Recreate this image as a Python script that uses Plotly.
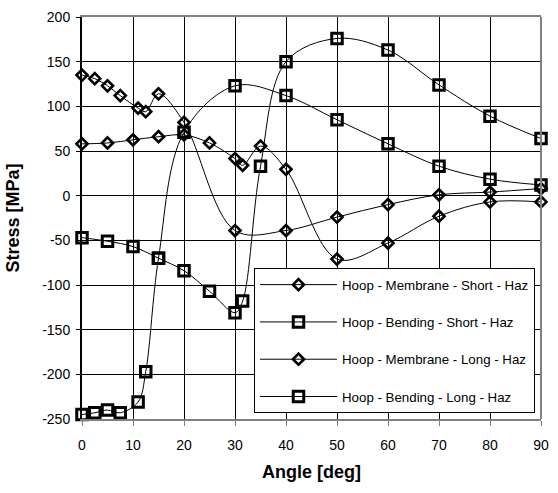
import plotly.graph_objects as go

# Angles (deg) for the two groups of measurements
angles_short = [0, 5, 10, 15, 20, 25, 30, 31.5, 35, 40, 50, 60, 70, 80, 90]
angles_long = [0, 2.5, 5, 7.5, 11, 12.5, 15, 20, 30, 40, 50, 60, 70, 80, 90]

# Stress values (MPa)
hoop_membrane_short = [58, 59, 62.5, 66, 68, 59, 41.5, 34, 55.5, 29.5, -71, -53, -23, -7, -7]
hoop_bending_short = [-47, -51, -57, -70, -84, -107, -131, -118, 33, 150, 176, 163, 124, 89, 64]
hoop_membrane_long = [135, 131, 123, 112, 98, 94, 114, 82, -39, -39, -24, -10, 1, 4, 8]
hoop_bending_long = [-245, -243, -240, -243, -231, -197, -70, 71, 123, 112, 85, 58, 33, 18.5, 12]

series_names = [
    "Hoop - Membrane - Short - Haz",
    "Hoop - Bending - Short - Haz",
    "Hoop - Membrane - Long - Haz",
    "Hoop - Bending - Long - Haz",
]

x_ticks = [0, 10, 20, 30, 40, 50, 60, 70, 80, 90]
y_ticks = [-250, -200, -150, -100, -50, 0, 50, 100, 150, 200]

FONT = "Liberation Sans, Arial, sans-serif"

fig = go.Figure()

specs = [
    (angles_short, hoop_membrane_short, series_names[0], "diamond-open", 8.5, 2.6),
    (angles_short, hoop_bending_short, series_names[1], "square-open", 10.5, 3),
    (angles_long, hoop_membrane_long, series_names[2], "diamond-open", 8.5, 2.6),
    (angles_long, hoop_bending_long, series_names[3], "square-open", 10.5, 3),
]

for i, (xs, ys, name, sym, size, lw) in enumerate(specs):
    fig.add_trace(go.Scatter(
        x=xs, y=ys, name=name, mode="lines+markers",
        line=dict(color="black", width=1, shape="spline", smoothing=1.0),
        marker=dict(symbol=sym, size=size, color="black", line=dict(color="black", width=lw)),
        cliponaxis=False,
        legendgroup=f"g{i}",
    ))

fig.update_layout(
    width=558, height=493,
    margin=dict(l=82, r=9, t=13, b=74),
    paper_bgcolor="white", plot_bgcolor="white",
    font=dict(family=FONT, size=14, color="black"),
    showlegend=True,
    legend=dict(
        x=0.3747, y=0.3744, xanchor="left", yanchor="top",
        bgcolor="white", bordercolor="black", borderwidth=1,
        font=dict(family=FONT, size=13.3, color="black"),
        itemwidth=77, tracegroupgap=17, traceorder="grouped",
    ),
    xaxis=dict(
        range=[0, 90], tickvals=x_ticks, ticktext=[str(v) for v in x_ticks],
        showgrid=True, gridcolor="black", gridwidth=1,
        showline=True, linecolor="#808080", linewidth=2, mirror=True,
        ticks="outside", ticklen=5, tickcolor="#808080", tickwidth=1,
        ticklabelstandoff=7,
        zeroline=False,
        title=dict(text="<b>Angle [deg]</b>", font=dict(family=FONT, size=18), standoff=14),
    ),
    yaxis=dict(
        range=[-250, 200], tickvals=y_ticks, ticktext=[str(v) for v in y_ticks],
        showgrid=True, gridcolor="black", gridwidth=1,
        showline=True, linecolor="black", linewidth=2, mirror=False,
        ticks="outside", ticklen=4, tickcolor="black", tickwidth=1,
        ticklabelstandoff=3,
        zeroline=False,
        title=dict(text="<b>Stress [MPa]</b>", font=dict(family=FONT, size=18), standoff=18),
    ),
    shapes=[dict(type="line", xref="paper", yref="paper", x0=1, x1=1, y0=0, y1=1,
                 line=dict(color="#808080", width=2), layer="above")],
)

fig.write_html("out.html")
